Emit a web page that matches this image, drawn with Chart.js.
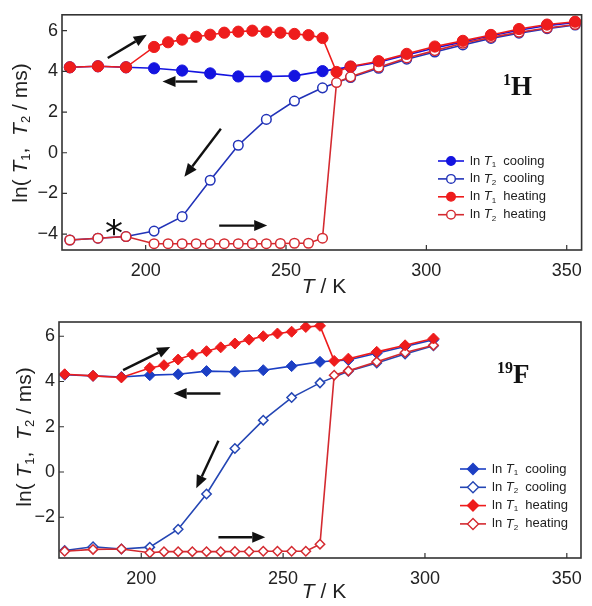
<!DOCTYPE html>
<html>
<head>
<meta charset="utf-8">
<script src="https://cdn.jsdelivr.net/npm/chart.js@4.4.1/dist/chart.umd.min.js"></script>
<style>
    html, body { margin: 0; padding: 0; background: #fff; }
    #wrap { position: relative; width: 592px; height: 606px; }
    canvas { position: absolute; left: 0; }
</style>
</head>
<body>
<div id="wrap">
    <canvas id="chart-h" width="592" height="303" style="top:0"></canvas>
    <canvas id="chart-f" width="592" height="303" style="top:303px"></canvas>
</div>
<script>
// ---- 1H panel ----
const hHeatT  = [173, 183, 193, 203, 208, 213, 218, 223, 228, 233, 238, 243, 248, 253, 258, 263, 268, 273, 283, 293, 303, 313, 323, 333, 343, 353];
const hHeatT1 = [4.2, 4.25, 4.2, 5.2, 5.43, 5.56, 5.7, 5.8, 5.9, 5.95, 6.0, 5.95, 5.9, 5.84, 5.78, 5.64, 3.97, 4.24, 4.5, 4.86, 5.22, 5.5, 5.79, 6.08, 6.3, 6.44];
const hHeatT2 = [-4.29, -4.2, -4.12, -4.47, -4.47, -4.47, -4.47, -4.47, -4.47, -4.47, -4.47, -4.47, -4.46, -4.45, -4.45, -4.2, 3.45, 3.73, 4.2, 4.66, 5.02, 5.38, 5.67, 5.92, 6.13, 6.3];
const hCoolT  = [173, 183, 193, 203, 213, 223, 233, 243, 253, 263, 273, 283, 293, 303, 313, 323, 333, 343, 353];
const hCoolT1 = [4.2, 4.25, 4.2, 4.15, 4.04, 3.9, 3.75, 3.75, 3.78, 4.01, 4.22, 4.45, 4.8, 5.15, 5.45, 5.75, 6.02, 6.25, 6.4];
const hCoolT2 = [-4.29, -4.2, -4.12, -3.85, -3.14, -1.35, 0.37, 1.64, 2.54, 3.19, 3.7, 4.15, 4.6, 4.95, 5.3, 5.62, 5.88, 6.1, 6.28];

// ---- 19F panel ----
const fHeatT  = [173, 183, 193, 203, 208, 213, 218, 223, 228, 233, 238, 243, 248, 253, 258, 263, 268, 273, 283, 293, 303];
const fHeatT1 = [4.32, 4.25, 4.18, 4.6, 4.72, 4.97, 5.19, 5.34, 5.51, 5.68, 5.85, 6.0, 6.12, 6.2, 6.41, 6.46, 4.91, 5.01, 5.31, 5.6, 5.9];
const fHeatT2 = [-3.5, -3.42, -3.4, -3.57, -3.52, -3.52, -3.52, -3.52, -3.52, -3.51, -3.51, -3.5, -3.5, -3.5, -3.5, -3.19, 4.28, 4.47, 4.87, 5.28, 5.6];
const fCoolT  = [173, 183, 193, 203, 213, 223, 233, 243, 253, 263, 273, 283, 293, 303];
const fCoolT1 = [4.3, 4.25, 4.2, 4.28, 4.32, 4.46, 4.43, 4.5, 4.68, 4.87, 4.95, 5.25, 5.55, 5.85];
const fCoolT2 = [-3.47, -3.3, -3.4, -3.32, -2.53, -0.97, 1.04, 2.29, 3.29, 3.94, 4.45, 4.82, 5.22, 5.58];

const xTicks = [200, 250, 300, 350];
const yTicks = [-4, -2, 0, 2, 4, 6];
const yTicksF = [-2, 0, 2, 4, 6];

const seriesNames = [['1', 'cooling'], ['2', 'cooling'], ['1', 'heating'], ['2', 'heating']];

// arrows in data coords [x0, y0, x1, y1], head at the end
const hArrows = [[186.5, 4.66, 200.4, 5.8], [218.4, 3.5, 206, 3.5], [226.8, 1.18, 213.8, -1.18], [226.2, -3.58, 243.3, -3.58]];
const fArrows = [[193.6, 4.5, 210.2, 5.53], [227.9, 3.47, 211.4, 3.47], [227.2, 1.38, 219.4, -0.72], [227.2, -2.88, 243.7, -2.88]];

const RED = '#ee1c1c';
const RED2 = '#d42a30';
const FONT = '"Liberation Sans", Arial, sans-serif';

const pts = (xs, ys) => xs.map((t, i) => ({ x: t, y: ys[i] }));

const draw_rich = (ctx, segs, x, y, size) => {
    let cx = x;
    segs.forEach(s => {
        const sz = s.sub ? size * 0.62 : size;
        ctx.font = (s.it ? 'italic ' : '') + sz + 'px ' + FONT;
        ctx.fillText(s.t, cx, y + (s.sub ? size * 0.28 : 0));
        cx += ctx.measureText(s.t).width;
    });
    return cx - x;
}

const rich_width = (ctx, segs, size) => {
    let w = 0;
    segs.forEach(s => {
        const sz = s.sub ? size * 0.62 : size;
        ctx.font = (s.it ? 'italic ' : '') + sz + 'px ' + FONT;
        w += ctx.measureText(s.t).width;
    });
    return w;
}

const draw_marker = (ctx, style, x, y, r, color, open) => {
    ctx.beginPath();
    if (style === 'rectRot') {
        ctx.moveTo(x, y - r); ctx.lineTo(x + r, y); ctx.lineTo(x, y + r); ctx.lineTo(x - r, y); ctx.closePath();
    } else {
        ctx.arc(x, y, r, 0, Math.PI * 2);
    }
    ctx.fillStyle = open ? '#fff' : color;
    ctx.fill();
    ctx.lineWidth = 1.4;
    ctx.strokeStyle = color;
    ctx.stroke();
}

const decor_plugin = {
    id: 'decor',
    afterDatasetsDraw(chart, args, o) {
        const ctx = chart.ctx;
        const a = chart.chartArea;
        const xs = chart.scales.x, ys = chart.scales.y;
        ctx.save();

        // arrows
        ctx.strokeStyle = '#111';
        ctx.fillStyle = '#111';
        ctx.lineWidth = 2.4;
        o.arrows.forEach(ar => {
            const x0 = xs.getPixelForValue(ar[0]), y0 = ys.getPixelForValue(ar[1]);
            const x1 = xs.getPixelForValue(ar[2]), y1 = ys.getPixelForValue(ar[3]);
            const ang = Math.atan2(y1 - y0, x1 - x0);
            const hl = 13, hw = 5.5;
            const bx = x1 - hl * Math.cos(ang), by = y1 - hl * Math.sin(ang);
            ctx.beginPath();
            ctx.moveTo(x0, y0); ctx.lineTo(bx, by); ctx.stroke();
            ctx.beginPath();
            ctx.moveTo(x1, y1);
            ctx.lineTo(bx + hw * Math.sin(ang), by - hw * Math.cos(ang));
            ctx.lineTo(bx - hw * Math.sin(ang), by + hw * Math.cos(ang));
            ctx.closePath();
            ctx.fill();
        });

        // asterisk
        if (o.star) {
            ctx.font = '36px "DejaVu Sans", sans-serif';
            ctx.textAlign = 'center';
            ctx.textBaseline = 'middle';
            ctx.fillText('*', xs.getPixelForValue(o.star[0]), ys.getPixelForValue(o.star[1]));
        }

        // frame and inward ticks
        ctx.strokeStyle = '#333';
        ctx.lineWidth = 1.6;
        ctx.strokeRect(a.left, a.top, a.right - a.left, a.bottom - a.top);
        ctx.lineWidth = 1.2;
        ctx.beginPath();
        xTicks.forEach(v => {
            const p = xs.getPixelForValue(v);
            ctx.moveTo(p, a.bottom); ctx.lineTo(p, a.bottom - 5);
        });
        o.yTicks.forEach(v => {
            const p = ys.getPixelForValue(v);
            ctx.moveTo(a.left, p); ctx.lineTo(a.left + 5, p);
        });
        ctx.stroke();

        // nucleus label
        ctx.fillStyle = '#111';
        ctx.textAlign = 'left';
        ctx.textBaseline = 'alphabetic';
        ctx.font = 'bold 16px "Liberation Serif", serif';
        ctx.fillText(o.nucleus[0], o.nucleus[2], o.nucleus[3] - 10);
        const sw = ctx.measureText(o.nucleus[0]).width;
        ctx.font = 'bold 27px "Liberation Serif", serif';
        ctx.fillText(o.nucleus[1], o.nucleus[2] + sw, o.nucleus[3]);

        // legend
        const lg = o.legend;
        seriesNames.forEach((s, i) => {
            const y = lg.y + i * lg.dy;
            const col = o.colors[i];
            ctx.strokeStyle = col;
            ctx.lineWidth = 1.6;
            ctx.beginPath(); ctx.moveTo(lg.x, y); ctx.lineTo(lg.x + 26, y); ctx.stroke();
            draw_marker(ctx, o.pointStyle, lg.x + 13, y, o.pointStyle === 'rectRot' ? 5.5 : 4.3, col, i % 2 === 1);
            ctx.fillStyle = '#222';
            ctx.textBaseline = 'middle';
            draw_rich(ctx, [{ t: 'ln ' }, { t: 'T', it: true }, { t: s[0], sub: true }, { t: '  ' + s[1] }], lg.x + 32, y, 13);
        });

        ctx.restore();
    },
    afterDraw(chart, args, o) {
        const ctx = chart.ctx;
        ctx.save();
        ctx.fillStyle = '#222';
        ctx.textBaseline = 'middle';
        // x title
        const xs = [{ t: 'T', it: true }, { t: ' / K' }];
        const xw = rich_width(ctx, xs, 21);
        draw_rich(ctx, xs, o.xTitle[0] - xw / 2, o.xTitle[1], 21);
        // y title
        const ys = [{ t: 'ln( ' }, { t: 'T', it: true }, { t: '1', sub: true }, { t: ',  ' }, { t: 'T', it: true }, { t: '2', sub: true }, { t: ' / ms)' }];
        const yw = rich_width(ctx, ys, 21);
        ctx.translate(o.yTitle[0], o.yTitle[1]);
        ctx.rotate(-Math.PI / 2);
        draw_rich(ctx, ys, -yw / 2, 0, 21);
        ctx.restore();
    }
};

const init_panel = (id, p) => {
    const style = p.pointStyle;
    const r = style === 'rectRot' ? 5.5 : 5.6;
    const mk = (label, data, color, open) => ({
        label: label,
        data: data,
        borderColor: color,
        backgroundColor: open ? '#fff' : color,
        pointBackgroundColor: open ? '#fff' : color,
        pointBorderColor: color,
        pointStyle: style,
        pointRadius: open ? r - 0.8 : r,
        pointBorderWidth: open ? 1.5 : 1,
        borderWidth: 1.6,
        tension: 0
    });

    new Chart(document.getElementById(id), {
        type: 'line',
        data: {
            datasets: [
                mk('ln T1 heating', p.heat1, RED, false),
                mk('ln T2 heating', p.heat2, RED2, true),
                mk('ln T1 cooling', p.cool1, p.colors[0], false),
                mk('ln T2 cooling', p.cool2, p.colors[1], true)
            ]
        },
        options: {
            responsive: false,
            animation: false,
            devicePixelRatio: 1,
            layout: { padding: p.padding },
            scales: {
                x: {
                    type: 'linear',
                    min: p.xmin, max: p.xmax,
                    afterBuildTicks: (s) => { s.ticks = xTicks.map(v => ({ value: v })); },
                    afterFit: (s) => { s.height = p.xh; },
                    grid: { display: false, drawTicks: false },
                    border: { display: false },
                    ticks: { color: '#222', padding: 10, font: { family: FONT, size: 18 }, maxRotation: 0 }
                },
                y: {
                    min: p.ymin, max: p.ymax,
                    afterBuildTicks: (s) => { s.ticks = p.yTicks.map(v => ({ value: v })); },
                    afterFit: (s) => { s.width = p.yw; },
                    grid: { display: false, drawTicks: false },
                    border: { display: false },
                    ticks: {
                        color: '#222', padding: 4, font: { family: FONT, size: 18 },
                        callback: (v) => (v < 0 ? '\u2212' + Math.abs(v) : '' + v)
                    }
                }
            },
            plugins: {
                legend: { display: false },
                tooltip: { enabled: false },
                decor: {
                    arrows: p.arrows, star: p.star, yTicks: p.yTicks,
                    nucleus: p.nucleus, legend: p.legend,
                    colors: [p.colors[0], p.colors[1], RED, RED2],
                    pointStyle: style, xTitle: p.xTitle, yTitle: p.yTitle
                }
            }
        },
        plugins: [decor_plugin]
    });
}

init_panel('chart-h', {
    heat1: pts(hHeatT, hHeatT1), heat2: pts(hHeatT, hHeatT2),
    cool1: pts(hCoolT, hCoolT1), cool2: pts(hCoolT, hCoolT2),
    colors: ['#1414e0', '#2233b8'],
    pointStyle: 'circle',
    xmin: 170.2, xmax: 355.3, ymin: -4.78, ymax: 6.78,
    yTicks: yTicks,
    padding: { top: 14, right: 9, left: 0, bottom: 0 },
    xh: 53, yw: 62,
    arrows: hArrows, star: [188.7, -4.05],
    nucleus: ['1', 'H', 503, 95],
    legend: { x: 438, y: 161, dy: 17.9 },
    xTitle: [324, 287], yTitle: [21, 133]
});

init_panel('chart-f', {
    heat1: pts(fHeatT, fHeatT1), heat2: pts(fHeatT, fHeatT2),
    cool1: pts(fCoolT, fCoolT1), cool2: pts(fCoolT, fCoolT2),
    colors: ['#1c3fc4', '#2446b4'],
    pointStyle: 'rectRot',
    xmin: 171, xmax: 355, ymin: -3.8, ymax: 6.63,
    yTicks: yTicksF,
    padding: { top: 19, right: 5, left: 0, bottom: 0 },
    xh: 48, yw: 59,
    arrows: fArrows, star: null,
    nucleus: ['19', 'F', 497, 80],
    legend: { x: 460, y: 166, dy: 18.3 },
    xTitle: [324, 289], yTitle: [25, 134]
});
</script>
</body>
</html>
